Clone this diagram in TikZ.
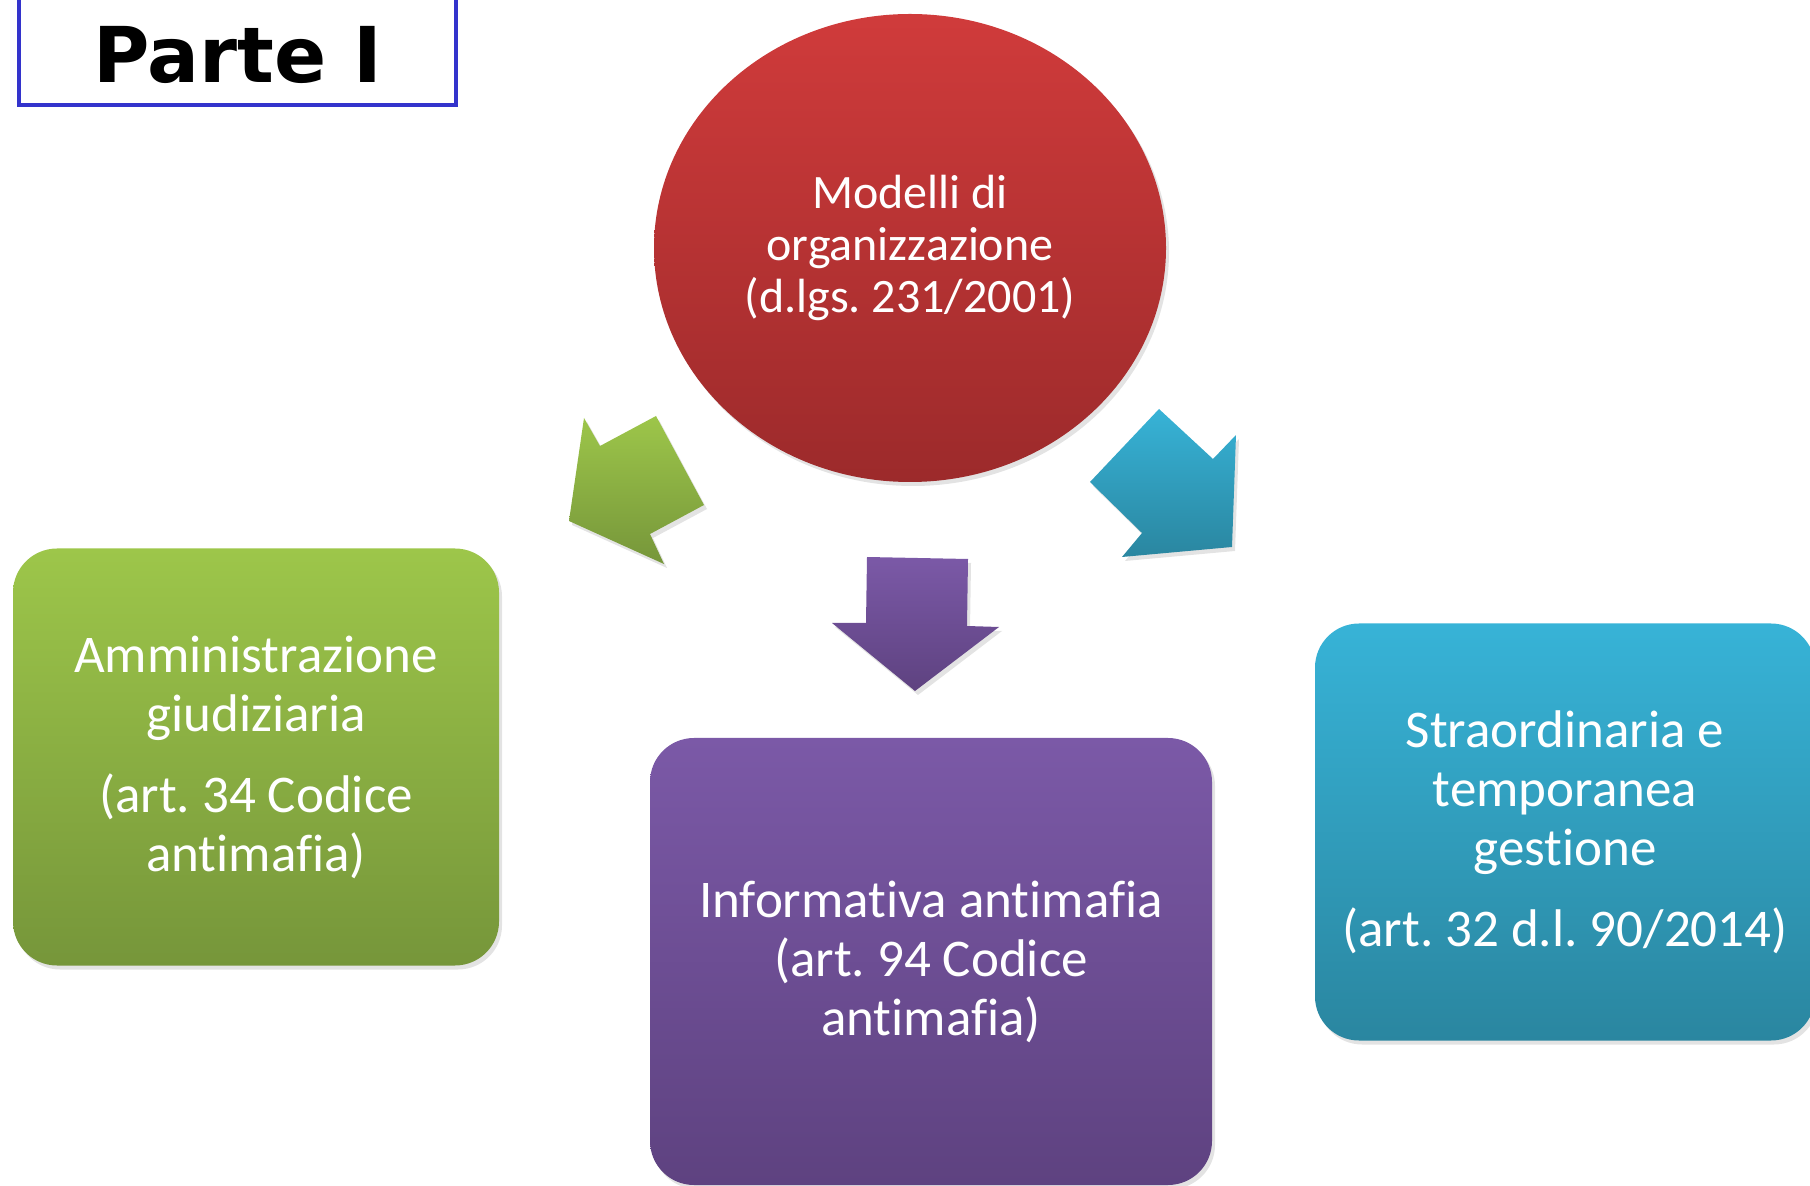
\documentclass[tikz,border=0pt]{standalone}
\usepackage{fontspec}
\setmainfont{Carlito}[Ligatures=NoCommon]
\newfontfamily\headfont{DejaVu Sans}
\usetikzlibrary{shapes.geometric, shadows}

\definecolor{redtop}{HTML}{D03B3B}
\definecolor{redbot}{HTML}{9C2A2B}
\definecolor{greentop}{HTML}{9DC64A}
\definecolor{greenbot}{HTML}{76963A}
\definecolor{violettop}{HTML}{7B59A7}
\definecolor{violetbot}{HTML}{5E4280}
\definecolor{cyantop}{HTML}{37B3D7}
\definecolor{cyanbot}{HTML}{2A86A0}
\definecolor{frameblue}{HTML}{3333CC}

\begin{document}
\frenchspacing
\begin{tikzpicture}[
    x=0.5pt, y=-0.5pt,
    blob/.style  = {shade, drop shadow={opacity=.22, shadow xshift=1.5pt, shadow yshift=-2pt}},
    card/.style  = {blob, rounded corners=22pt, text=white, align=center, inner sep=0pt,
                    font=\fontsize{26.5pt}{29.5pt}\selectfont},
    hub/.style   = {blob, ellipse, text=white, align=center, inner sep=0pt,
                    font=\fontsize{24pt}{26pt}\selectfont,
                    minimum width=256pt, minimum height=234pt,
                    top color=redtop, bottom color=redbot},
    green/.style  = {top color=greentop, bottom color=greenbot},
    violet/.style = {top color=violettop, bottom color=violetbot},
    cyan/.style   = {top color=cyantop, bottom color=cyanbot},
    tag/.style   = {draw=frameblue, line width=2pt, inner sep=0pt,
                    minimum width=218.5pt, minimum height=60pt,
                    text height=38pt, text depth=0pt,
                    font=\headfont\bfseries\fontsize{38.5pt}{41pt}\selectfont},
  ]
  \useasboundingbox (0,0) rectangle (1810,1186);

  \node[tag] (title) at (237.5,45) {Parte I};

  \node[hub] (model) at (910,248)
      {Modelli di\\organizzazione\\(d.lgs. 231/2001)};

  \node[card, green, minimum width=243pt, minimum height=208.5pt] (admin) at (256,757)
      {Amministrazione\\giudiziaria\\[11pt](art. 34 Codice\\antimafia)};
  \node[card, violet, minimum width=281pt, minimum height=223.5pt] (info) at (931,961.5)
      {Informativa antimafia\\(art. 94 Codice\\antimafia)};
  \node[card, cyan, minimum width=250pt, minimum height=208.5pt] (gest) at (1565,832)
      {Straordinaria e\\temporanea\\gestione\\[11pt](art. 32 d.l. 90/2014)};

  % block arrows out of the hub
  \path[blob, green]  (584,418) -- (600,446) -- (656,416) -- (704,505)
                      -- (650,534) -- (664,564) -- (569,521) -- cycle;
  \path[blob, violet] (867,557) -- (968,559) -- (967,626) -- (999,627)
                      -- (915,691) -- (832,623) -- (866,623) -- cycle;
  \path[blob, cyan]   (1159,409) -- (1213,459) -- (1236,435) -- (1232,547)
                      -- (1122,557) -- (1142,533) -- (1090,482) -- cycle;
\end{tikzpicture}
\end{document}
